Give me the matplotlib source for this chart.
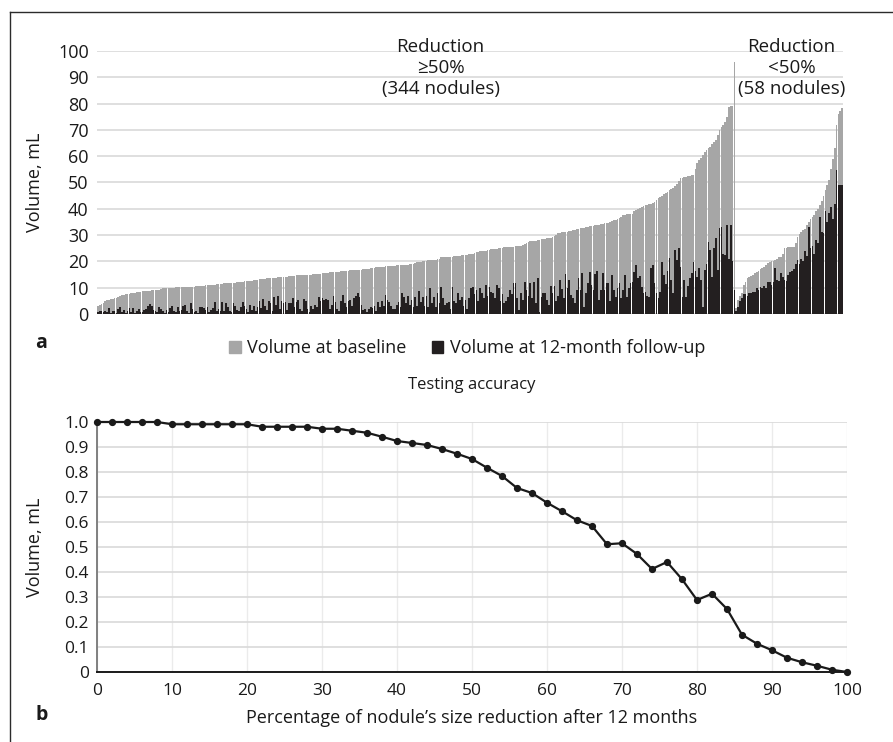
import matplotlib.pyplot as plt
from matplotlib.patches import Patch
from matplotlib.lines import Line2D

plt.rcParams['font.family'] = ['Open Sans', 'DejaVu Sans']

# panel a: nodule volumes (mL), sorted by baseline volume within each group
base_ge50 = [
    3.0, 3.4, 3.8, 4.3, 5.1, 5.3, 5.5, 5.6, 5.7, 5.9, 6.2, 6.6, 7.0, 7.1, 7.3, 7.5, 7.6, 7.7, 7.8, 7.9,
    8.1, 8.2, 8.3, 8.4, 8.6, 8.7, 8.8, 8.9, 8.9, 9.0, 9.1, 9.1, 9.2, 9.3, 9.5, 9.8, 9.8, 9.9, 9.9, 10.0,
    10.0, 10.0, 10.1, 10.1, 10.1, 10.2, 10.2, 10.2, 10.3, 10.3, 10.3, 10.4, 10.4, 10.5, 10.5, 10.6, 10.7, 10.8, 10.9, 11.0,
    11.0, 11.1, 11.2, 11.2, 11.3, 11.4, 11.5, 11.5, 11.6, 11.7, 11.7, 11.8, 11.8, 11.9, 11.9, 12.0, 12.1, 12.2, 12.3, 12.4,
    12.4, 12.5, 12.5, 12.7, 12.8, 12.9, 13.1, 13.2, 13.3, 13.4, 13.4, 13.5, 13.5, 13.6, 13.6, 13.7, 13.8, 13.9, 13.9, 14.0,
    14.0, 14.1, 14.2, 14.3, 14.4, 14.5, 14.6, 14.7, 14.7, 14.8, 14.8, 14.9, 14.9, 15.0, 15.0, 15.0, 15.1, 15.1, 15.2, 15.2,
    15.3, 15.4, 15.6, 15.7, 15.7, 15.8, 15.8, 15.9, 15.9, 16.0, 16.1, 16.2, 16.3, 16.3, 16.4, 16.5, 16.6, 16.7, 16.7, 16.8,
    16.8, 16.9, 16.9, 17.0, 17.1, 17.2, 17.3, 17.4, 17.5, 17.6, 17.7, 17.8, 17.9, 18.0, 18.0, 18.1, 18.2, 18.3, 18.3, 18.4,
    18.4, 18.5, 18.5, 18.6, 18.6, 18.7, 18.7, 18.8, 18.9, 19.0, 19.2, 19.5, 19.7, 19.8, 19.9, 20.1, 20.2, 20.3, 20.4, 20.5,
    20.6, 20.7, 20.7, 20.8, 21.0, 21.5, 21.6, 21.6, 21.7, 21.7, 21.8, 21.8, 21.9, 22.0, 22.1, 22.2, 22.3, 22.4, 22.5, 22.6,
    22.7, 22.8, 23.0, 23.2, 23.4, 23.6, 23.8, 23.9, 24.0, 24.1, 24.3, 24.4, 24.6, 24.7, 24.8, 24.9, 25.0, 25.1, 25.2, 25.3,
    25.4, 25.4, 25.5, 25.5, 25.6, 25.7, 25.8, 25.8, 25.9, 26.2, 26.6, 27.0, 27.3, 27.6, 27.7, 27.8, 27.9, 28.0, 28.2, 28.4,
    28.5, 28.6, 28.8, 28.9, 29.0, 29.2, 29.5, 30.2, 30.9, 30.9, 31.0, 31.1, 31.2, 31.3, 31.5, 31.6, 31.8, 32.0, 32.2, 32.4,
    32.6, 32.7, 32.8, 33.0, 33.1, 33.3, 33.4, 33.5, 33.7, 33.9, 34.0, 34.2, 34.3, 34.5, 34.6, 34.7, 35.0, 35.3, 35.6, 35.8,
    36.0, 36.5, 37.0, 37.5, 37.8, 37.9, 38.0, 38.0, 38.0, 39.2, 39.6, 40.0, 40.4, 40.8, 41.0, 41.3, 41.5, 41.7, 42.0, 42.3,
    42.7, 43.2, 44.0, 44.6, 45.0, 45.5, 46.0, 46.5, 47.0, 47.4, 47.8, 48.5, 49.5, 50.5, 51.6, 51.8, 52.0, 52.2, 52.4, 52.6,
    52.8, 52.9, 55.0, 57.3, 58.5, 59.5, 60.5, 61.7, 62.3, 63.0, 63.6, 64.5, 65.3, 66.2, 68.0, 70.0, 71.0, 72.0, 73.1, 75.0,
    78.8, 79.0, 79.2, 96.0,
]
fu_ge50 = [
    0.8, 1.0, 1.0, 0.9, 1.1, 0.6, 2.2, 0.5, 1.3, 1.0, 0.4, 2.0, 2.8, 0.7, 1.4, 0.3, 1.0, 2.4, 0.8, 2.2,
    0.5, 1.2, 1.8, 0.9, 0.6, 1.5, 2.0, 3.0, 3.8, 3.2, 1.5, 1.0, 0.6, 2.8, 1.8, 1.0, 0.5, 1.5, 0.8, 2.1,
    3.0, 1.2, 0.6, 2.6, 1.0, 1.4, 3.2, 3.5, 1.0, 0.4, 4.0, 2.0, 0.8, 1.2, 0.3, 2.5, 2.6, 2.4, 1.5, 2.6,
    0.8, 1.5, 2.2, 4.7, 1.0, 2.0, 1.0, 4.4, 1.2, 4.0, 2.5, 1.2, 0.9, 4.0, 3.0, 1.5, 1.0, 2.5, 4.5, 3.2,
    2.0, 0.8, 3.5, 1.5, 3.0, 1.0, 2.5, 5.0, 2.2, 5.8, 3.0, 1.5, 5.0, 4.0, 1.0, 6.6, 3.5, 6.8, 1.8, 5.0,
    4.0, 4.7, 1.5, 4.2, 4.0, 6.0, 2.5, 4.5, 5.5, 2.0, 1.0, 5.8, 5.0, 2.0, 0.8, 3.0, 2.0, 3.5, 2.5, 6.6,
    5.0, 6.0, 5.5, 5.6, 5.5, 2.0, 3.5, 6.8, 4.5, 2.0, 1.2, 5.0, 7.2, 4.0, 2.6, 4.8, 5.2, 3.0, 6.0, 7.0,
    7.9, 6.5, 3.5, 1.5, 2.0, 0.8, 2.0, 2.5, 2.2, 3.0, 1.0, 4.5, 2.5, 5.0, 3.0, 7.2, 5.5, 4.6, 3.0, 2.0,
    1.8, 3.5, 4.5, 2.5, 7.9, 6.5, 4.0, 7.0, 3.5, 5.5, 2.5, 6.5, 3.0, 8.9, 4.5, 6.5, 3.0, 7.0, 2.8, 9.8,
    4.0, 6.5, 2.5, 7.8, 4.0, 10.4, 6.0, 3.5, 4.0, 4.5, 2.0, 10.4, 5.0, 4.0, 8.0, 5.5, 6.5, 3.0, 5.5, 2.0,
    6.0, 9.8, 10.4, 7.5, 9.0, 5.0, 9.8, 8.0, 6.0, 11.0, 7.0, 10.4, 8.5, 8.0, 6.0, 11.0, 9.8, 5.0, 7.5, 4.0,
    4.8, 6.5, 9.0, 7.5, 11.9, 11.9, 6.0, 1.5, 7.8, 5.5, 12.3, 9.0, 7.0, 11.6, 6.0, 12.3, 4.0, 13.6, 0.9, 6.5,
    7.8, 8.0, 5.5, 3.5, 10.6, 8.0, 10.8, 4.8, 7.0, 12.9, 9.5, 6.0, 15.2, 10.0, 12.9, 7.2, 6.0, 4.0, 9.0, 13.6,
    9.0, 15.7, 2.8, 8.0, 11.8, 16.1, 11.0, 9.0, 15.2, 16.5, 5.4, 9.0, 15.7, 9.2, 11.9, 11.9, 5.0, 14.8, 9.0, 6.6,
    10.0, 11.9, 6.0, 9.2, 14.8, 6.6, 10.0, 11.9, 12.0, 16.1, 18.6, 13.6, 14.3, 10.4, 8.0, 8.5, 7.0, 6.6, 17.4, 18.6,
    11.7, 8.0, 6.0, 8.5, 19.9, 14.8, 11.5, 16.5, 21.2, 13.0, 7.9, 24.3, 20.5, 25.0, 18.0, 6.6, 13.0, 6.6, 10.5, 13.5,
    15.5, 19.9, 16.5, 14.0, 17.5, 13.0, 2.8, 16.8, 19.0, 27.5, 24.3, 14.0, 25.0, 28.8, 16.8, 32.6, 33.2, 23.0, 22.5, 33.8,
    21.0, 33.8, 20.0, 9.1,
]
base_lt50 = [
    2.2, 5.3, 7.0, 8.0, 11.0, 12.3, 13.6, 14.0, 14.5, 15.0, 15.5, 16.0, 16.5, 17.0, 17.5, 18.0, 18.5, 19.3, 19.6, 20.0,
    20.3, 20.6, 21.0, 21.5, 21.8, 23.0, 25.0, 25.2, 25.3, 25.4, 25.5, 25.6, 27.0, 29.4, 30.5, 31.0, 31.9, 32.5, 34.0, 35.0,
    36.0, 37.0, 37.5, 39.0, 40.0, 41.5, 43.0, 45.0, 47.0, 49.0, 51.0, 55.0, 59.0, 63.0, 72.0, 76.0, 77.0, 78.5,
]
fu_lt50 = [
    1.2, 2.5, 5.0, 6.0, 7.5, 7.5, 7.0, 7.8, 8.0, 8.5, 8.5, 10.0, 9.0, 10.4, 10.0, 10.5, 10.0, 12.0, 12.3, 11.0,
    12.0, 17.4, 13.0, 12.5, 15.5, 14.0, 13.0, 12.5, 15.0, 16.0, 16.5, 17.0, 19.0, 20.5, 19.0, 21.0, 20.0, 24.0, 22.0, 33.0,
    25.0, 26.0, 23.0, 28.0, 27.0, 37.0, 31.0, 30.7, 39.0, 35.0, 38.3, 40.8, 36.0, 42.0, 54.8, 49.0, 49.0, 49.0,
]

# panel b: testing accuracy vs size reduction threshold
reduction_pct = [0, 2, 4, 6, 8, 10, 12, 14, 16, 18, 20, 22, 24, 26, 28, 30, 32, 34, 36, 38, 40, 42, 44, 46, 48, 50,
                 52, 54, 56, 58, 60, 62, 64, 66, 68, 70, 72, 74, 76, 78, 80, 82, 84, 86, 88, 90, 92, 94, 96, 98, 100]
accuracy = [1.0, 1.0, 1.0, 1.0, 1.0, 0.991, 0.991, 0.991, 0.991, 0.991, 0.991, 0.981, 0.981, 0.981, 0.981,
            0.973, 0.973, 0.965, 0.957, 0.941, 0.924, 0.916, 0.908, 0.892, 0.873, 0.852, 0.817, 0.784, 0.736,
            0.716, 0.677, 0.643, 0.607, 0.584, 0.511, 0.515, 0.472, 0.412, 0.44, 0.371, 0.288, 0.313, 0.252,
            0.149, 0.113, 0.087, 0.057, 0.039, 0.025, 0.009, 0.0]
b_yticks = [0, 0.1, 0.2, 0.3, 0.4, 0.5, 0.6, 0.7, 0.8, 0.9, 1.0]
b_yticklabels = ['0', '0.1', '0.2', '0.3', '0.4', '0.5', '0.6', '0.7', '0.8', '0.9', '1.0']

W, H = 893, 742
fig = plt.figure(figsize=(W / 100, H / 100), dpi=100)

def box(l, t, r, b):
    return [l / W, 1 - b / H, (r - l) / W, (b - t) / H]

GRID = '#d9d9d9'
TXT = '#1a1a1a'

# --- panel a ---
ax1 = fig.add_axes(box(97, 51, 843, 314))
base = base_ge50 + base_lt50
fu = fu_ge50 + fu_lt50
pos = list(range(len(base)))
ax1.bar(pos, base, width=0.92, color='#a6a6a6', linewidth=0, zorder=2)
ax1.bar(pos, fu, width=0.92, color='#231f20', linewidth=0, zorder=3)
ax1.set_xlim(-0.5, len(base) - 0.5)
ax1.set_ylim(0, 100)
ax1.set_yticks(range(0, 101, 10))
ax1.set_xticks([])
ax1.grid(axis='y', color=GRID, lw=1.2, zorder=0)
ax1.set_axisbelow(True)
for s in ax1.spines.values():
    s.set_visible(False)
ax1.tick_params(axis='y', length=0, pad=6, labelsize=13, labelcolor=TXT)
ax1.set_ylabel('Volume, mL', fontsize=13, color=TXT)
ax1.yaxis.set_label_coords(-0.071, 0.5)

ax1.text(184.7, 93.5, 'Reduction\n\u226550%\n(344 nodules)', ha='center', va='center',
         fontsize=13.5, color=TXT, linespacing=1.2, zorder=5)
ax1.text(373.7, 93.5, 'Reduction\n<50%\n(58 nodules)', ha='center', va='center',
         fontsize=13.5, color=TXT, linespacing=1.2, zorder=5)

handles = [Patch(color='#a6a6a6', label='Volume at baseline'),
           Patch(color='#231f20', label='Volume at 12-month follow-up')]
fig.legend(handles=handles, loc='center', bbox_to_anchor=(467 / W, 1 - 348 / H), ncol=2,
           frameon=False, fontsize=13, handlelength=0.65, handleheight=0.65,
           handletextpad=0.35, columnspacing=1.4, labelcolor=TXT)

fig.text(41 / W, 1 - 343 / H, 'a', fontsize=14, fontweight='bold', color=TXT, ha='center', va='center')

# --- panel b ---
ax2 = fig.add_axes(box(97, 422, 847, 672))
ax2.plot(reduction_pct, accuracy, color='#1a1a1a', lw=1.6, marker='o', markersize=4.2, zorder=4,
         clip_on=False)
ax2.set_xlim(0, 100)
ax2.set_ylim(0, 1.0)
ax2.set_xticks(range(0, 101, 10))
ax2.set_yticks(b_yticks)
ax2.set_yticklabels(b_yticklabels)
ax2.grid(axis='y', color=GRID, lw=1.2, zorder=0)
ax2.grid(axis='x', color='#ebebeb', lw=1.0, zorder=0)
ax2.set_axisbelow(True)
ax2.spines['top'].set_visible(False)
ax2.spines['right'].set_visible(False)
ax2.spines['left'].set_color('#808080')
ax2.spines['left'].set_linewidth(1.4)
ax2.spines['bottom'].set_color('#1a1a1a')
ax2.spines['bottom'].set_linewidth(1.4)
ax2.tick_params(axis='both', length=0, labelsize=12.5, labelcolor=TXT)
ax2.tick_params(axis='y', pad=6)
ax2.tick_params(axis='x', pad=8)
ax2.set_title('Testing accuracy', fontsize=12, color=TXT, pad=24)
ax2.set_ylabel('Volume, mL', fontsize=13, color=TXT)
ax2.yaxis.set_label_coords(-0.0707, 0.5)
ax2.set_xlabel('Percentage of nodule\u2019s size reduction after 12 months', fontsize=13, color=TXT,
               labelpad=7)

fig.text(42 / W, 1 - 715 / H, 'b', fontsize=14, fontweight='bold', color=TXT, ha='center', va='center')

# figure frame (left and top edges)
fig.add_artist(Line2D([10 / W, 10 / W], [0, 1 - 12 / H], transform=fig.transFigure, color='#2b2b2b', lw=1.0))
fig.add_artist(Line2D([10 / W, 1], [1 - 12 / H, 1 - 12 / H], transform=fig.transFigure, color='#2b2b2b', lw=1.0))

fig.savefig('out.png', dpi=100)
